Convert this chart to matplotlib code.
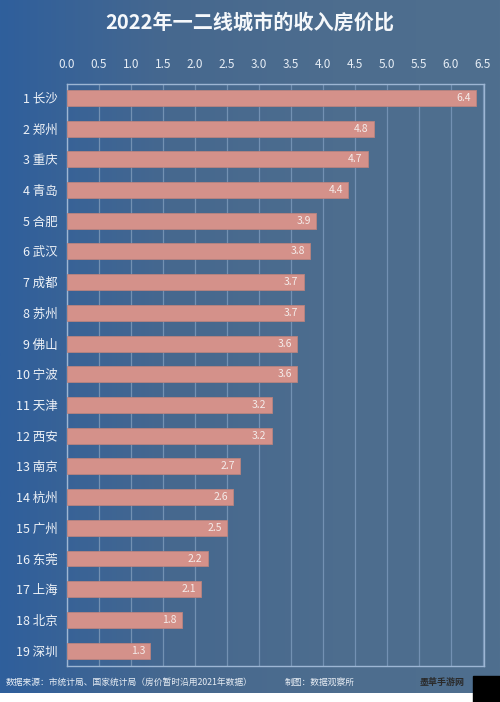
import numpy as np
import matplotlib
matplotlib.use("Agg")
import matplotlib.pyplot as plt
from matplotlib.colors import LinearSegmentedColormap

plt.rcParams['font.family'] = ['Noto Sans CJK SC', 'DejaVu Sans']

cities = ["长沙", "郑州", "重庆", "青岛", "合肥", "武汉", "成都", "苏州", "佛山", "宁波",
          "天津", "西安", "南京", "杭州", "广州", "东莞", "上海", "北京", "深圳"]
values = [6.4, 4.8, 4.7, 4.4, 3.9, 3.8, 3.7, 3.7, 3.6, 3.6,
          3.2, 3.2, 2.7, 2.6, 2.5, 2.2, 2.1, 1.8, 1.3]
xticks = [0.0, 0.5, 1.0, 1.5, 2.0, 2.5, 3.0, 3.5, 4.0, 4.5, 5.0, 5.5, 6.0, 6.5]
title = "2022年一二线城市的收入房价比"
source = "数据来源：市统计局、国家统计局（房价暂时沿用2021年数据）"
maker = "制图：数据观察所"

W, H = 500, 702
fig = plt.figure(figsize=(W / 100, H / 100), dpi=100)
fig.patch.set_facecolor("white")

# background gradient
bg = fig.add_axes([0, 1 - 693 / H, 1, 693 / H])
cmap = LinearSegmentedColormap.from_list("bg", ["#2f5f9c", "#46688f", "#4d6d8e", "#4f6f8f"])
grad = np.linspace(0, 1, 256).reshape(1, -1)
bg.imshow(grad, aspect="auto", cmap=cmap, extent=[0, 1, 0, 1])
bg.set_axis_off()

ax = fig.add_axes([67 / W, 1 - 666 / H, (484 - 67) / W, (666 - 84) / H])
ax.set_facecolor("none")
y = np.arange(len(cities))
ax.barh(y, values, height=0.52, color="#d4918a", edgecolor="#b9837f", linewidth=0.6, zorder=3)
for yi, v in zip(y, values):
    ax.text(v - 0.08, yi, f"{v:.1f}", ha="right", va="center", color="#f4ecea",
            fontsize=7.5, zorder=4)
ax.set_xlim(0, 6.52)
ax.set_ylim(len(cities) - 0.5, -0.45)
ax.set_xticks(xticks)
ax.set_xticklabels([f"{t:.1f}" for t in xticks])
ax.xaxis.tick_top()
ax.tick_params(axis="x", length=0, colors="#e6edf5", labelsize=8.5, pad=9)
ax.set_yticks(y)
ax.set_yticklabels([f"{i + 1} {c}" for i, c in enumerate(cities)])
ax.tick_params(axis="y", length=0, colors="#eef2f7", labelsize=9, pad=7)
ax.grid(axis="x", color="#7391b3", linewidth=0.9, zorder=1)
for s in ax.spines.values():
    s.set_color("#9db6d4")
    s.set_linewidth(1.0)

fig.text(0.5, 1 - 22 / H, title, ha="center", va="center", color="#f5f8fb",
         fontsize=14.5, fontweight="bold")
fig.text(6 / W, 1 - 682 / H, source, ha="left", va="center", color="#e8eef5", fontsize=6.3)
fig.text(285 / W, 1 - 682 / H, maker, ha="left", va="center", color="#e8eef5", fontsize=6.3)

# watermark corner
fig.patches.append(plt.Rectangle((473 / W, 0), 27 / W, 26 / H, transform=fig.transFigure,
                                 color="black", zorder=5))
fig.text(420 / W, 1 - 682 / H, "墨草手游网", ha="left", va="center", color="#2a2a2a",
         fontsize=6.5, fontweight="bold")

fig.savefig("out.png", dpi=100, facecolor=fig.get_facecolor())
